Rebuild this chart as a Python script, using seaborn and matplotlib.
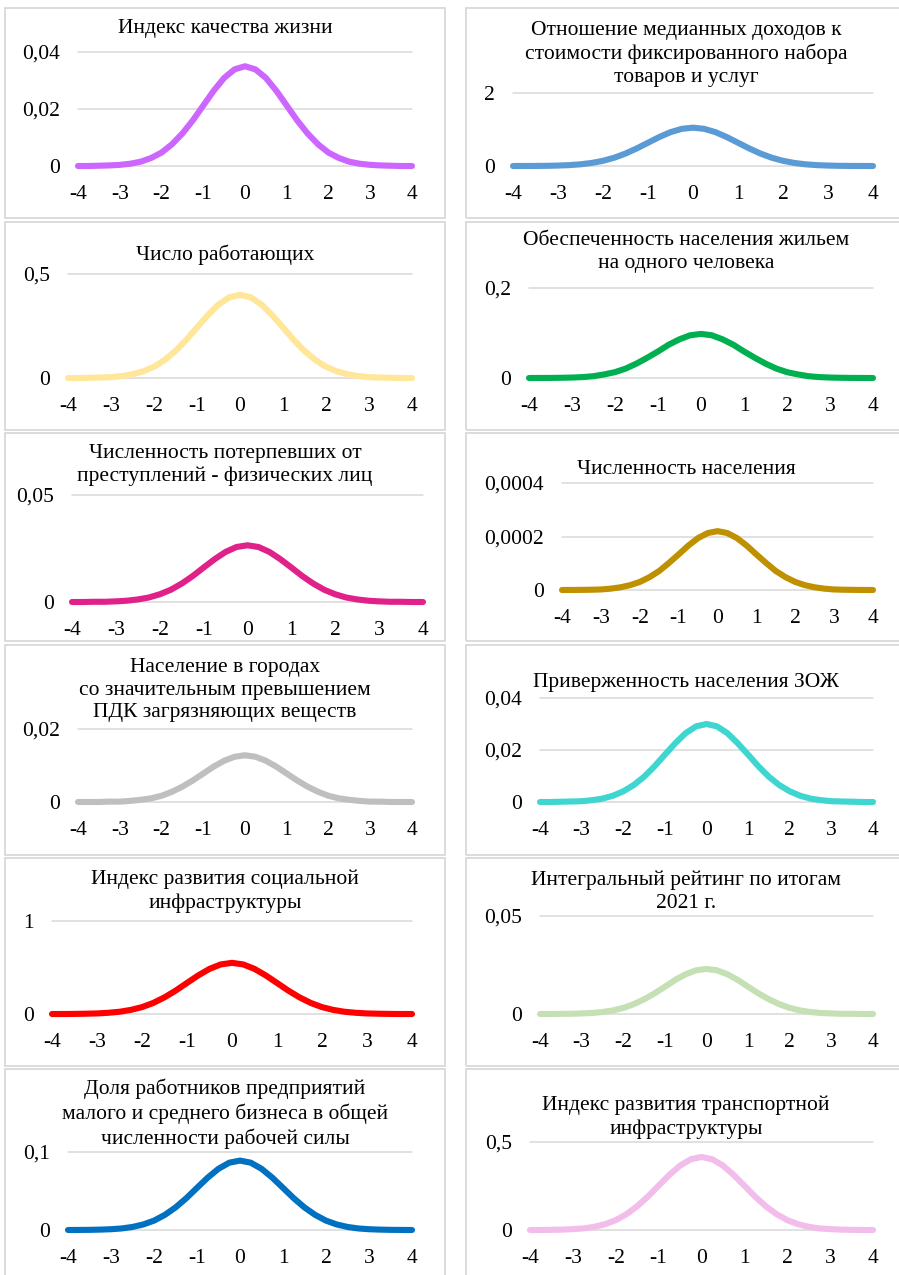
import numpy as np
import pandas as pd
import matplotlib
matplotlib.use("Agg")
import matplotlib.pyplot as plt
from matplotlib.patches import Rectangle
import seaborn as sns

# Standardised values on the horizontal axis
x_values = [-4.0, -3.75, -3.5, -3.25, -3.0, -2.75, -2.5, -2.25, -2.0, -1.75, -1.5,
            -1.25, -1.0, -0.75, -0.5, -0.25, 0.0, 0.25, 0.5, 0.75, 1.0, 1.25,
            1.5, 1.75, 2.0, 2.25, 2.5, 2.75, 3.0, 3.25, 3.5, 3.75, 4.0]

# Density curves of each indicator
quality_of_life = [0.0, 0.0, 0.0001, 0.0002, 0.0004, 0.0008, 0.0015, 0.0028, 0.0047, 0.0076, 0.0114,
                   0.0160, 0.0212, 0.0264, 0.0309, 0.0339, 0.0350, 0.0339, 0.0309, 0.0264, 0.0212, 0.0160,
                   0.0114, 0.0076, 0.0047, 0.0028, 0.0015, 0.0008, 0.0004, 0.0002, 0.0001, 0.0, 0.0]
income_ratio = [0.0, 0.001, 0.002, 0.005, 0.012, 0.024, 0.046, 0.084, 0.142, 0.227, 0.341,
                0.481, 0.637, 0.793, 0.927, 1.018, 1.050, 1.018, 0.927, 0.793, 0.637, 0.481,
                0.341, 0.227, 0.142, 0.084, 0.046, 0.024, 0.012, 0.005, 0.002, 0.001, 0.0]
employed = [0.0, 0.0, 0.001, 0.002, 0.004, 0.009, 0.018, 0.032, 0.054, 0.087, 0.130,
            0.183, 0.243, 0.302, 0.353, 0.388, 0.400, 0.388, 0.353, 0.302, 0.243, 0.183,
            0.130, 0.087, 0.054, 0.032, 0.018, 0.009, 0.004, 0.002, 0.001, 0.0, 0.0]
housing = [0.0, 0.0001, 0.0002, 0.0005, 0.001, 0.002, 0.004, 0.008, 0.013, 0.021, 0.032,
           0.045, 0.059, 0.074, 0.086, 0.095, 0.098, 0.095, 0.086, 0.074, 0.059, 0.045,
           0.032, 0.021, 0.013, 0.008, 0.004, 0.002, 0.001, 0.0005, 0.0002, 0.0001, 0.0]
crime_victims = [0.0, 0.0, 0.0001, 0.0001, 0.0003, 0.0006, 0.0012, 0.0021, 0.0036, 0.0057, 0.0086,
                 0.0121, 0.0161, 0.0200, 0.0234, 0.0257, 0.0265, 0.0257, 0.0234, 0.0200, 0.0161, 0.0121,
                 0.0086, 0.0057, 0.0036, 0.0021, 0.0012, 0.0006, 0.0003, 0.0001, 0.0001, 0.0, 0.0]
population = [0.0, 0.0000002, 0.0000005, 0.000001, 0.000002, 0.000005, 0.000010, 0.000018, 0.000030,
              0.000048, 0.000071, 0.000101, 0.000133, 0.000166, 0.000194, 0.000213, 0.000220,
              0.000213, 0.000194, 0.000166, 0.000133, 0.000101, 0.000071, 0.000048, 0.000030,
              0.000018, 0.000010, 0.000005, 0.000002, 0.000001, 0.0000005, 0.0000002, 0.0]
polluted_cities = [0.0, 0.0, 0.0, 0.0001, 0.0001, 0.0003, 0.0006, 0.0010, 0.0017, 0.0028, 0.0042,
                   0.0059, 0.0078, 0.0097, 0.0113, 0.0124, 0.0128, 0.0124, 0.0113, 0.0097, 0.0078, 0.0059,
                   0.0042, 0.0028, 0.0017, 0.0010, 0.0006, 0.0003, 0.0001, 0.0001, 0.0, 0.0, 0.0]
healthy_lifestyle = [0.0, 0.0, 0.0001, 0.0002, 0.0003, 0.0007, 0.0013, 0.0024, 0.0041, 0.0065, 0.0097,
                     0.0137, 0.0182, 0.0226, 0.0265, 0.0291, 0.0300, 0.0291, 0.0265, 0.0226, 0.0182, 0.0137,
                     0.0097, 0.0065, 0.0041, 0.0024, 0.0013, 0.0007, 0.0003, 0.0002, 0.0001, 0.0, 0.0]
social_infra = [0.0, 0.0, 0.001, 0.003, 0.006, 0.013, 0.024, 0.044, 0.074, 0.119, 0.179,
                0.252, 0.334, 0.415, 0.485, 0.533, 0.550, 0.533, 0.485, 0.415, 0.334, 0.252,
                0.179, 0.119, 0.074, 0.044, 0.024, 0.013, 0.006, 0.003, 0.001, 0.0, 0.0]
integral_rating = [0.0, 0.0, 0.0001, 0.0001, 0.0003, 0.0005, 0.0010, 0.0018, 0.0031, 0.0050, 0.0075,
                   0.0105, 0.0139, 0.0174, 0.0203, 0.0223, 0.0230, 0.0223, 0.0203, 0.0174, 0.0139, 0.0105,
                   0.0075, 0.0050, 0.0031, 0.0018, 0.0010, 0.0005, 0.0003, 0.0001, 0.0001, 0.0, 0.0]
sme_workers = [0.0, 0.0001, 0.0002, 0.0005, 0.0010, 0.0020, 0.0039, 0.0071, 0.0120, 0.0193, 0.0289,
               0.0407, 0.0540, 0.0672, 0.0785, 0.0863, 0.0890, 0.0863, 0.0785, 0.0672, 0.0540, 0.0407,
               0.0289, 0.0193, 0.0120, 0.0071, 0.0039, 0.0020, 0.0010, 0.0005, 0.0002, 0.0001, 0.0]
transport_infra = [0.0, 0.0, 0.001, 0.002, 0.005, 0.009, 0.018, 0.033, 0.056, 0.090, 0.135,
                   0.190, 0.252, 0.313, 0.366, 0.402, 0.415, 0.402, 0.366, 0.313, 0.252, 0.190,
                   0.135, 0.090, 0.056, 0.033, 0.018, 0.009, 0.005, 0.002, 0.001, 0.0, 0.0]

titles = [
    "Индекс качества жизни",
    "Отношение медианных доходов к\nстоимости фиксированного набора\nтоваров и услуг",
    "Число работающих",
    "Обеспеченность населения жильем\nна одного человека",
    "Численность потерпевших от\nпреступлений - физических лиц",
    "Численность населения",
    "Население в городах\nсо значительным превышением\nПДК загрязняющих веществ",
    "Приверженность населения ЗОЖ",
    "Индекс развития социальной\nинфраструктуры",
    "Интегральный рейтинг по итогам\n2021 г.",
    "Доля работников предприятий\nмалого и среднего бизнеса в общей\nчисленности рабочей силы",
    "Индекс развития транспортной\nинфраструктуры",
]
series = [quality_of_life, income_ratio, employed, housing, crime_victims, population,
          polluted_cities, healthy_lifestyle, social_infra, integral_rating, sme_workers,
          transport_infra]
y_ticks = [[0, 0.02, 0.04], [0, 2], [0, 0.5], [0, 0.2], [0, 0.05], [0, 0.0002, 0.0004],
           [0, 0.02], [0, 0.02, 0.04], [0, 1], [0, 0.05], [0, 0.1], [0, 0.5]]
y_tick_labels = [["0", "0,02", "0,04"], ["0", "2"], ["0", "0,5"], ["0", "0,2"], ["0", "0,05"],
                 ["0", "0,0002", "0,0004"], ["0", "0,02"], ["0", "0,02", "0,04"], ["0", "1"],
                 ["0", "0,05"], ["0", "0,1"], ["0", "0,5"]]
x_ticks = [-4, -3, -2, -1, 0, 1, 2, 3, 4]
colors = ["#CC66FF", "#5B9BD5", "#FFE699", "#00B050", "#E0218A", "#BF9000",
          "#BFBFBF", "#3FD5D0", "#FF0000", "#C5E0B4", "#0070C0", "#F2BDEA"]

# Layout in pixels: panel frames and plot areas (left, right, top, bottom)
W, H = 899, 1275
col_frames = [(5, 445), (466, 906)]
row_frames = [(8, 218), (222, 430), (433, 641), (645, 855), (858, 1066), (1069, 1282)]
plot_areas = [(78, 412, 52, 166), (513, 873, 93, 166),
              (68, 412, 274, 378), (529, 873, 288, 378),
              (72, 423, 495, 602), (562, 873, 483, 590),
              (78, 412, 729, 802), (540, 873, 698, 802),
              (52, 412, 921, 1014), (540, 873, 916, 1014),
              (68, 412, 1152, 1230), (530, 873, 1142, 1230)]
title_centers = [29, 54, 255, 252, 465, 469, 690, 682, 891, 892, 1114, 1117]

sns.set_theme(style="white")
plt.rcParams["font.family"] = ["Liberation Serif", "DejaVu Serif"]

fig = plt.figure(figsize=(W / 100, H / 100), dpi=100)
fig.patch.set_facecolor("white")

for i in range(12):
    r, c = divmod(i, 2)
    fx0, fx1 = col_frames[c]
    fy0, fy1 = row_frames[r]
    fig.add_artist(Rectangle((fx0 / W, 1 - fy1 / H), (fx1 - fx0) / W, (fy1 - fy0) / H,
                             transform=fig.transFigure, fill=False,
                             edgecolor="#D9D9D9", lw=1.3))

    xl, xr, yt, yb = plot_areas[i]
    ax = fig.add_axes([xl / W, 1 - yb / H, (xr - xl) / W, (yb - yt) / H])
    df = pd.DataFrame({"x": x_values, "y": series[i]})
    sns.lineplot(data=df, x="x", y="y", ax=ax, color=colors[i], lw=4.4,
                 solid_capstyle="round", solid_joinstyle="round", clip_on=False, zorder=3)
    ax.set_xlim(-4, 4)
    ax.set_ylim(0, y_ticks[i][-1])
    ax.set_xticks(x_ticks)
    ax.set_xticklabels([str(t) for t in x_ticks])
    ax.set_yticks(y_ticks[i])
    ax.set_yticklabels(y_tick_labels[i])
    ax.set_xlabel("")
    ax.set_ylabel("")
    for s in ax.spines.values():
        s.set_visible(False)
    ax.grid(False)
    for t in y_ticks[i]:
        ax.axhline(t, color="#D9D9D9", lw=1.1, zorder=1, clip_on=False)
    ax.tick_params(axis="x", length=0, pad=14, labelsize=15.5, colors="black")
    ax.tick_params(axis="y", length=0, pad=13, labelsize=15.5, colors="black")
    ax.set_facecolor("none")

    fig.text((fx0 + fx1) / 2 / W, 1 - title_centers[i] / H, titles[i],
             ha="center", va="center", fontsize=15.5, linespacing=1.28, color="black")

fig.savefig("out.png", dpi=100, facecolor="white")
